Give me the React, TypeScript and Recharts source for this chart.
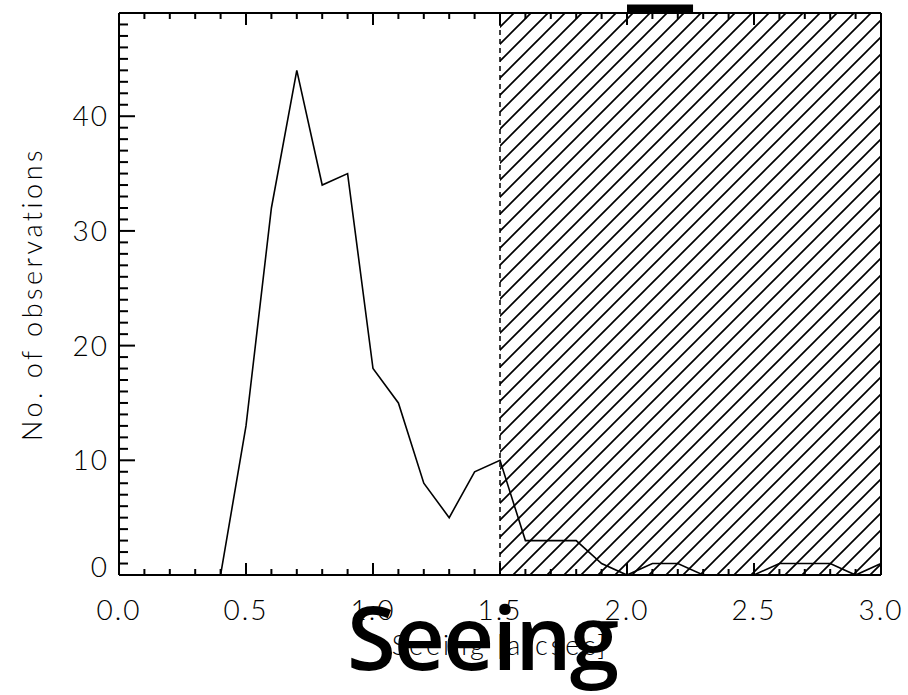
import {
  LineChart,
  Line,
  XAxis,
  YAxis,
  ReferenceArea,
  ReferenceLine,
} from 'recharts';

// seeing bin centres [arcsec] and number of observations per bin
const seeing = [
  0.0, 0.1, 0.2, 0.3, 0.4, 0.5, 0.6, 0.7, 0.8, 0.9, 1.0, 1.1, 1.2, 1.3, 1.4, 1.5,
  1.6, 1.7, 1.8, 1.9, 2.0, 2.1, 2.2, 2.3, 2.4, 2.5, 2.6, 2.7, 2.8, 2.9, 3.0,
];
const observations = [
  0, 0, 0, 0, 0, 13, 32, 44, 34, 35, 18, 15, 8, 5, 9, 10,
  3, 3, 3, 1, 0, 1, 1, 0, 0, 0, 1, 1, 1, 0, 1,
];

const xMajorTicks = [0.0, 0.5, 1.0, 1.5, 2.0, 2.5, 3.0];
const yMajorTicks = [0, 10, 20, 30, 40];
const xDomain = [0, 3];
const yDomain = [0, 49];
const cutoff = 1.5; // hatched: rejected seeing
const topBar = [2.0, 2.26];

// minor ticks: every 0.1 arcsec on x, every observation on y
const xTicks = Array.from({ length: 31 }, (_, i) => i / 10);
const yTicks = Array.from({ length: 50 }, (_, i) => i);

const rows = seeing.map((x, i) => ({ x, n: observations[i] }));

const FONT = 'Lato, "DejaVu Sans", sans-serif';
const isMajorX = (v: number) => xMajorTicks.some((m) => Math.abs(m - v) < 1e-6);
const isMajorY = (v: number) => yMajorTicks.includes(v);

const BottomTick = ({ x, y, payload }: any) => {
  const major = isMajorX(payload.value);
  return (
    <g>
      <line x1={x} x2={x} y1={y} y2={y - (major ? 12 : 6)} stroke="#000" strokeWidth={2} />
      {major && (
        <text
          x={x}
          y={y + 45}
          textAnchor="middle"
          fontFamily={FONT}
          fontWeight={300}
          fontSize={28}
          letterSpacing={2}
          fill="#000"
        >
          {payload.value.toFixed(1)}
        </text>
      )}
    </g>
  );
};

const TopTick = ({ x, y, payload }: any) => {
  const major = isMajorX(payload.value);
  return <line x1={x} x2={x} y1={y} y2={y + (major ? 12 : 6)} stroke="#000" strokeWidth={2} />;
};

const LeftTick = ({ x, y, payload }: any) => {
  const major = isMajorY(payload.value);
  return (
    <g>
      <line x1={x} x2={x + (major ? 16 : 9)} y1={y} y2={y} stroke="#000" strokeWidth={2} />
      {major && (
        <text
          x={x - 10}
          y={payload.value === 0 ? y - 8 : y}
          dy={10}
          textAnchor="end"
          fontFamily={FONT}
          fontWeight={300}
          fontSize={28}
          letterSpacing={2}
          fill="#000"
        >
          {payload.value}
        </text>
      )}
    </g>
  );
};

const RightTick = ({ x, y, payload }: any) => {
  const major = isMajorY(payload.value);
  return <line x1={x} x2={x - (major ? 16 : 9)} y1={y} y2={y} stroke="#000" strokeWidth={2} />;
};

const YLabel = ({ viewBox }: any) => {
  const cx = viewBox.x + 22;
  const cy = viewBox.y + viewBox.height / 2;
  return (
    <text
      x={cx}
      y={cy}
      transform={`rotate(-90, ${cx}, ${cy})`}
      textAnchor="middle"
      fontFamily={FONT}
      fontWeight={300}
      fontSize={27}
      letterSpacing={3.5}
      fill="#000"
    >
      No. of observations
    </text>
  );
};

const XLabel = ({ viewBox }: any) => (
  <text
    x={viewBox.x + viewBox.width / 2}
    y={viewBox.y + 80}
    textAnchor="middle"
    fontFamily={FONT}
    fontWeight={300}
    fontSize={27}
    letterSpacing={3}
    fill="#000"
  >
    Seeing [arcsec]
  </text>
);

export default function App() {
  return (
    <div style={{ position: 'absolute', left: 0, top: 0, width: 908, height: 695, background: '#fff' }}>
      <LineChart
        width={908}
        height={695}
        data={rows}
        margin={{ top: 8, right: 22, bottom: 60, left: 20 }}
      >
        <defs>
          <pattern id="hatch" patternUnits="userSpaceOnUse" width={17} height={17}>
            <path d="M0,17 L17,0 M-3,3 L3,-3 M14,20 L20,14" stroke="#000" strokeWidth={1.7} />
          </pattern>
        </defs>
        <XAxis
          xAxisId="b"
          dataKey="x"
          type="number"
          domain={xDomain}
          ticks={xTicks}
          interval={0}
          height={60}
          tickSize={0}
          tickMargin={0}
          tickLine={false}
          tick={(p: any) => <BottomTick {...p} />}
          axisLine={{ stroke: '#000', strokeWidth: 2 }}
          label={(p: any) => <XLabel {...p} />}
        />
        <XAxis
          xAxisId="t"
          orientation="top"
          dataKey="x"
          type="number"
          domain={xDomain}
          ticks={xTicks}
          interval={0}
          height={5}
          tickSize={0}
          tickMargin={0}
          tickLine={false}
          tick={(p: any) => <TopTick {...p} />}
          axisLine={{ stroke: '#000', strokeWidth: 2 }}
        />
        <YAxis
          yAxisId="l"
          type="number"
          domain={yDomain}
          ticks={yTicks}
          interval={0}
          width={99}
          tickSize={0}
          tickMargin={0}
          tickLine={false}
          tick={(p: any) => <LeftTick {...p} />}
          axisLine={{ stroke: '#000', strokeWidth: 2 }}
          label={(p: any) => <YLabel {...p} />}
        />
        <YAxis
          yAxisId="r"
          orientation="right"
          type="number"
          domain={yDomain}
          ticks={yTicks}
          interval={0}
          width={5}
          tickSize={0}
          tickMargin={0}
          tickLine={false}
          tick={(p: any) => <RightTick {...p} />}
          axisLine={{ stroke: '#000', strokeWidth: 2 }}
        />
        <ReferenceArea
          xAxisId="b"
          yAxisId="l"
          x1={cutoff}
          x2={xDomain[1]}
          y1={yDomain[0]}
          y2={yDomain[1]}
          fill="url(#hatch)"
          fillOpacity={1}
          stroke="none"
        />
        <ReferenceLine
          xAxisId="b"
          yAxisId="l"
          x={cutoff}
          stroke="#000"
          strokeWidth={1.5}
          strokeDasharray="5 4"
        />
        <ReferenceArea
          xAxisId="b"
          yAxisId="l"
          x1={topBar[0]}
          x2={topBar[1]}
          y1={49.05}
          y2={49.75}
          fill="#000"
          fillOpacity={1}
          stroke="none"
          ifOverflow="visible"
        />
        <Line
          xAxisId="b"
          yAxisId="l"
          type="linear"
          dataKey="n"
          stroke="#000"
          strokeWidth={1.6}
          dot={false}
          isAnimationActive={false}
        />
      </LineChart>
      <svg
        width={908}
        height={695}
        style={{ position: 'absolute', left: 0, top: 0, pointerEvents: 'none' }}
      >
        <text
          x={482}
          y={670}
          textAnchor="middle"
          fontFamily='"Open Sans", Lato, sans-serif'
          fontWeight={600}
          fontSize={89}
          letterSpacing={-2}
          fill="#000"
        >
          Seeing
        </text>
      </svg>
    </div>
  );
}
